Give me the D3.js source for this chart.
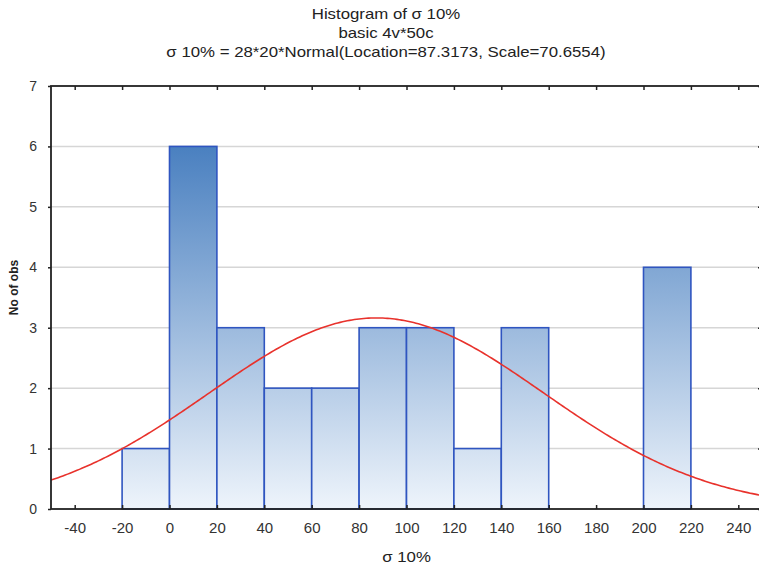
<!DOCTYPE html>
<html><head><meta charset="utf-8">
<script src="https://cdn.jsdelivr.net/npm/d3@7"></script>
<style>
html,body{margin:0;padding:0;background:#fff;}
svg{display:block;font-family:"Liberation Sans",Arial,sans-serif;}
</style></head>
<body><svg id="c" width="759" height="569"></svg>
<script>
// ---- data ----
const binStarts = [-20, 0, 20, 40, 60, 80, 100, 120, 140, 160, 180, 200];
const binWidth = 20;
const counts = [1, 6, 3, 2, 2, 3, 3, 1, 3, 0, 0, 4];
const xTicks = [-40, -20, 0, 20, 40, 60, 80, 100, 120, 140, 160, 180, 200, 220, 240];
const yTicks = [0, 1, 2, 3, 4, 5, 6, 7];
const nObs = 28;
const fitLocation = 87.3173;
const fitScale = 70.6554;
const titleLines = ["Histogram of σ 10%", "basic 4v*50c", "σ 10% = 28*20*Normal(Location=87.3173, Scale=70.6554)"];
const xTitle = "σ 10%";
const yTitle = "No of obs";

const svg = d3.select("#c");
const L = 51, R = 762, T = 86, B = 509;
const x = d3.scaleLinear().domain([-50, 250]).range([L, R]);
const y = d3.scaleLinear().domain([0, 7]).range([B, T]);

const defs = svg.append("defs");
const grad = defs.append("linearGradient").attr("id", "bg")
  .attr("gradientUnits", "userSpaceOnUse")
  .attr("x1", 0).attr("x2", 0).attr("y1", y(6)).attr("y2", y(0));
grad.append("stop").attr("offset", 0).attr("stop-color", "#4a80c0");
grad.append("stop").attr("offset", 1).attr("stop-color", "#eef4fb");
defs.append("clipPath").attr("id", "clip").append("rect")
  .attr("x", L).attr("y", T).attr("width", R - L).attr("height", B - T);

// gridlines
svg.append("g").selectAll("line").data(yTicks.filter(d => d > 0 && d < 7)).join("line")
  .attr("x1", L).attr("x2", R).attr("y1", d => y(d)).attr("y2", d => y(d))
  .attr("stroke", "#d6d6d6").attr("stroke-width", 1.5);

// bars
svg.append("g").selectAll("rect").data(binStarts.map((s, i) => ({s, c: counts[i]})).filter(d => d.c > 0)).join("rect")
  .attr("x", d => x(d.s)).attr("y", d => y(d.c))
  .attr("width", d => x(d.s + binWidth) - x(d.s)).attr("height", d => y(0) - y(d.c))
  .attr("fill", "url(#bg)").attr("stroke", "#2f55c0").attr("stroke-width", 1.6);

// normal curve (fitted, parameters from the chart title)
const pdf = v => nObs * binWidth * Math.exp(-0.5 * Math.pow((v - fitLocation) / fitScale, 2)) / (fitScale * Math.sqrt(2 * Math.PI));
const xs = d3.range(-50, 250.5, 1);
svg.append("path").datum(xs)
  .attr("clip-path", "url(#clip)")
  .attr("d", d3.line().x(d => x(d)).y(d => y(pdf(d))))
  .attr("fill", "none").attr("stroke", "#e8322c").attr("stroke-width", 1.6);

// frame
svg.append("rect").attr("x", L).attr("y", T).attr("width", R - L).attr("height", B - T)
  .attr("fill", "none").attr("stroke", "#222").attr("stroke-width", 1.8);

// axes ticks
const fmt = d => String(d);
const xb = svg.append("g").attr("transform", `translate(0,${B})`)
  .call(d3.axisBottom(x).tickValues(xTicks).tickSize(-4).tickPadding(13).tickFormat(fmt));
const xt = svg.append("g").attr("transform", `translate(0,${T})`)
  .call(d3.axisTop(x).tickValues(xTicks).tickSize(-4).tickFormat(""));
const yl = svg.append("g").attr("transform", `translate(${L},0)`)
  .call(d3.axisLeft(y).tickValues(yTicks).tickSize(3).tickPadding(11).tickFormat(fmt));
const yr = svg.append("g").attr("transform", `translate(${R},0)`)
  .call(d3.axisRight(y).tickValues(yTicks).tickSize(-4).tickFormat(""));
[xb, xt, yl, yr].forEach(g => {
  g.select(".domain").remove();
  g.selectAll(".tick line").attr("stroke", "#222").attr("stroke-width", 1.5);
  g.selectAll("text").attr("font-size", 14).attr("fill", "#333").attr("font-family", "Liberation Sans, Arial, sans-serif");
});
xb.selectAll("text").attr("font-size", 15);

// titles (slightly widened glyphs, as in the reference)
svg.append("g").selectAll("text").data(titleLines).join("text")
  .attr("transform", (d, i) => `translate(386,${19 + i * 19}) scale(1.2,1)`)
  .attr("text-anchor", "middle")
  .attr("font-size", 14).attr("fill", "#222").text(d => d);
svg.append("text").attr("transform", `translate(${(L + R) / 2},562) scale(1.2,1)`)
  .attr("text-anchor", "middle")
  .attr("font-size", 14).attr("fill", "#222").text(xTitle);
svg.append("text").attr("transform", `translate(18,${(T + B) / 2 - 10}) rotate(-90)`)
  .attr("text-anchor", "middle").attr("font-size", 12).attr("font-weight", "bold")
  .attr("fill", "#222").text(yTitle);
</script></body></html>
